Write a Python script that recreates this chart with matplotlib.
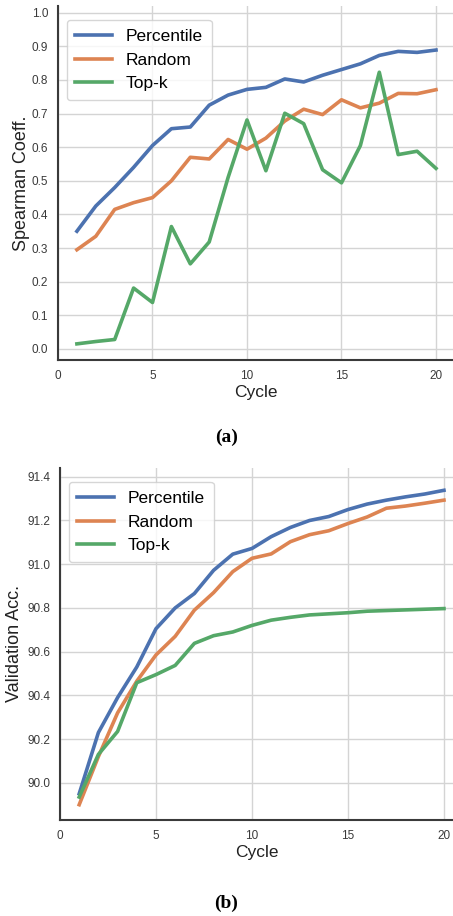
import matplotlib
matplotlib.use("Agg")
import matplotlib.pyplot as plt

cycles = list(range(1, 21))

spearman_percentile = [0.350, 0.425, 0.480, 0.540, 0.605, 0.655, 0.660, 0.725, 0.755, 0.772,
                       0.778, 0.803, 0.794, 0.814, 0.831, 0.848, 0.873, 0.885, 0.882, 0.889]
spearman_random = [0.295, 0.335, 0.415, 0.435, 0.450, 0.500, 0.570, 0.565, 0.623, 0.594,
                   0.627, 0.678, 0.713, 0.697, 0.741, 0.717, 0.731, 0.760, 0.759, 0.771]
spearman_topk = [0.015, 0.022, 0.028, 0.181, 0.138, 0.364, 0.253, 0.318, 0.510, 0.681,
                 0.530, 0.701, 0.670, 0.533, 0.494, 0.605, 0.823, 0.578, 0.588, 0.537]

acc_percentile = [89.95, 90.23, 90.39, 90.53, 90.705, 90.80, 90.866, 90.972, 91.046, 91.072,
                  91.126, 91.168, 91.200, 91.218, 91.250, 91.275, 91.293, 91.308, 91.321, 91.338]
acc_random = [89.90, 90.12, 90.32, 90.465, 90.585, 90.67, 90.79, 90.87, 90.966, 91.027,
              91.047, 91.103, 91.135, 91.153, 91.186, 91.216, 91.256, 91.266, 91.279, 91.293]
acc_topk = [89.935, 90.13, 90.235, 90.458, 90.495, 90.537, 90.638, 90.673, 90.690, 90.720,
            90.744, 90.757, 90.768, 90.773, 90.778, 90.785, 90.788, 90.791, 90.794, 90.797]

labels = ["Percentile", "Random", "Top-k"]
colors = ["#4C72B0", "#DD8452", "#55A868"]

plt.rcParams['font.family'] = ['Liberation Sans', 'DejaVu Sans']

fig = plt.figure(figsize=(4.53, 9.16), dpi=100)
W, H = 453, 916

def make_ax(left_px, bottom_px, top_px):
    return fig.add_axes([left_px / W, 1 - bottom_px / H, 1 - left_px / W, (bottom_px - top_px) / H])

def style(ax):
    ax.grid(True, color="#d4d4d4", linewidth=1.0)
    ax.set_axisbelow(True)
    for s in ["top", "right"]:
        ax.spines[s].set_visible(False)
    for s in ["left", "bottom"]:
        ax.spines[s].set_color("#3a3a3a")
        ax.spines[s].set_linewidth(1.5)
    ax.tick_params(axis="both", length=0, labelsize=8.5, colors="#3a3a3a", pad=7)
    ax.set_xticks([0, 5, 10, 15, 20])

def add_legend(ax):
    leg = ax.legend(loc="upper left", fontsize=12.5, frameon=True, borderpad=0.5,
                    handlelength=2.1, bbox_to_anchor=(0.0, 0.985))
    leg.get_frame().set_edgecolor("#cccccc")

# Top panel
ax1 = make_ax(58, 360, 6)
for y, lab, c in zip([spearman_percentile, spearman_random, spearman_topk], labels, colors):
    ax1.plot(cycles, y, color=c, lw=2.6, label=lab)
ax1.set_xlim(0, 20.9)
ax1.set_ylim(-0.033, 1.02)
ax1.set_yticks([i / 10 for i in range(11)])
style(ax1)
ax1.set_xlabel("Cycle", fontsize=12.5, color="#222222", labelpad=2)
ax1.set_ylabel("Spearman Coeff.", fontsize=13, color="#222222", labelpad=1)
add_legend(ax1)

# Bottom panel
ax2 = make_ax(60, 820, 468)
for y, lab, c in zip([acc_percentile, acc_random, acc_topk], labels, colors):
    ax2.plot(cycles, y, color=c, lw=2.6, label=lab)
ax2.set_xlim(0, 20.47)
ax2.set_ylim(89.83, 91.44)
ax2.set_yticks([90.0, 90.2, 90.4, 90.6, 90.8, 91.0, 91.2, 91.4])
style(ax2)
ax2.set_xlabel("Cycle", fontsize=12.5, color="#222222", labelpad=2)
ax2.set_ylabel("Validation Acc.", fontsize=13, color="#222222", labelpad=3)
add_legend(ax2)

fig.text(0.5, 1 - 437 / H, "(a)", ha="center", va="center", fontsize=14, fontweight="bold",
         family=["Liberation Serif", "DejaVu Serif"])
fig.text(0.5, 1 - 903 / H, "(b)", ha="center", va="center", fontsize=14, fontweight="bold",
         family=["Liberation Serif", "DejaVu Serif"])

fig.savefig("out.png", dpi=100)
